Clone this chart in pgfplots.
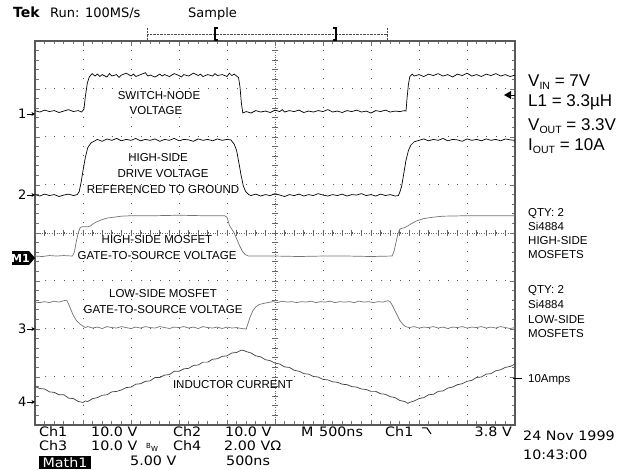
\documentclass[border=0pt]{standalone}
\usepackage{pgfplots}
\pgfplotsset{compat=1.18}
\usetikzlibrary{arrows.meta}
\usepackage{fontspec}
\setmainfont{Liberation Sans}
\newfontfamily\tekfont{DejaVu Sans}
\newfontfamily\tekwide[FakeStretch=1.1]{DejaVu Sans}

\newcommand{\lab}{\fontsize{11.5}{13}\selectfont}
\newcommand{\bigann}{\fontsize{17}{20}\selectfont}
\newcommand{\sub}[1]{\raisebox{-2.6pt}{\fontsize{10.5}{10.5}\selectfont #1}}
\newcommand{\scr}{\tekwide\fontsize{13}{15}\selectfont}

\begin{document}
\begin{tikzpicture}
\begin{axis}[
  name=ax, scale only axis, width=480pt, height=384pt,
  xmin=0, xmax=10, ymin=0, ymax=8,
  xtick={0,...,10}, ytick={0,...,8},
  minor x tick num=4, minor y tick num=4,
  xticklabels={}, yticklabels={},
  tick align=inside,
  major tick length=5pt, minor tick length=3.5pt,
  tick style={black!55, line width=0.8pt},
  grid=major,
  major grid style={black!65, line width=1pt, dash pattern=on 1pt off 8.6pt},
  axis line style={black!65, line width=1.6pt},
]
% centre cross of the graticule
\draw[black!60, line width=0.5pt, dash pattern=on 0.8pt off 1.6pt] (axis cs:0,4) -- (axis cs:10,4);
\draw[black!60, line width=6pt, dash pattern=on 0.8pt off 8.8pt, dash phase=0.4pt] (axis cs:0,4) -- (axis cs:10,4);
\draw[black!60, line width=0.5pt, dash pattern=on 0.8pt off 1.6pt] (axis cs:5,0) -- (axis cs:5,8);
\draw[black!60, line width=6pt, dash pattern=on 0.8pt off 8.8pt, dash phase=0.4pt] (axis cs:5,0) -- (axis cs:5,8);

% Ch1 switch node
\addplot[black, line width=0.7pt] coordinates {
 (0,6.55) (0.1,6.52) (0.2,6.56) (0.3,6.53) (0.4,6.55) (0.5,6.51) (0.6,6.54) (0.7,6.57) (0.8,6.53) (0.9,6.55) (0.97,6.52)
 (1.02,6.58) (1.05,6.85) (1.09,7.12) (1.13,7.25) (1.19,7.32)
 (1.25,7.27) (1.3,7.31) (1.35,7.26) (1.4,7.30) (1.5,7.25) (1.55,7.32) (1.6,7.27) (1.7,7.30) (1.75,7.24) (1.8,7.29)
 (1.9,7.33) (2.0,7.27) (2.05,7.31) (2.1,7.26) (2.2,7.30) (2.3,7.34) (2.35,7.27) (2.4,7.29) (2.5,7.25) (2.6,7.31)
 (2.65,7.27) (2.7,7.30) (2.8,7.26) (2.9,7.32) (3.0,7.28) (3.05,7.25) (3.1,7.30) (3.2,7.27) (3.3,7.33) (3.4,7.28)
 (3.45,7.31) (3.5,7.26) (3.6,7.30) (3.7,7.27) (3.75,7.32) (3.8,7.28) (3.9,7.30) (4.0,7.26) (4.05,7.33) (4.1,7.28)
 (4.15,7.31) (4.2,7.27) (4.24,7.24)
 (4.27,7.05) (4.30,6.70) (4.33,6.50)
 (4.4,6.53) (4.5,6.50) (4.6,6.55) (4.7,6.52) (4.8,6.54) (4.9,6.51) (5.0,6.56) (5.1,6.53) (5.15,6.57) (5.2,6.52)
 (5.3,6.55) (5.4,6.53) (5.5,6.56) (5.6,6.51) (5.7,6.54) (5.8,6.52) (5.9,6.55) (6.0,6.53) (6.1,6.57) (6.2,6.52)
 (6.3,6.54) (6.4,6.51) (6.5,6.55) (6.6,6.53) (6.7,6.56) (6.8,6.52) (6.9,6.54) (7.0,6.50) (7.1,6.55) (7.2,6.53)
 (7.3,6.56) (7.4,6.52) (7.5,6.54) (7.6,6.53) (7.7,6.55) (7.73,6.54)
 (7.75,6.80) (7.78,7.10) (7.81,7.26) (7.86,7.31)
 (7.9,7.27) (8.0,7.30) (8.1,7.26) (8.2,7.31) (8.3,7.28) (8.4,7.32) (8.5,7.27) (8.6,7.30) (8.7,7.25) (8.8,7.31)
 (8.9,7.28) (9.0,7.33) (9.1,7.27) (9.2,7.30) (9.3,7.26) (9.4,7.31) (9.5,7.28) (9.6,7.32) (9.7,7.27) (9.8,7.30)
 (9.9,7.26) (10,7.29)
};

% Ch2 high-side drive
\addplot[black, line width=0.7pt] coordinates {
 (0,4.80) (0.1,4.77) (0.2,4.81) (0.3,4.78) (0.4,4.80) (0.5,4.76) (0.6,4.79) (0.7,4.81) (0.8,4.78) (0.88,4.80)
 (0.92,4.86) (0.96,5.05) (1.0,5.30) (1.05,5.58) (1.1,5.78) (1.17,5.88) (1.25,5.92)
 (1.3,5.95) (1.4,5.91) (1.5,5.96) (1.6,5.93) (1.7,5.97) (1.8,5.92) (1.9,5.95) (2.0,5.93) (2.1,5.97) (2.2,5.92)
 (2.3,5.95) (2.4,5.93) (2.5,5.96) (2.6,5.91) (2.7,5.95) (2.8,5.93) (2.9,5.97) (3.0,5.92) (3.1,5.95) (3.2,5.94)
 (3.3,5.91) (3.4,5.96) (3.5,5.93) (3.6,5.95) (3.7,5.92) (3.8,5.96) (3.9,5.93) (4.0,5.95) (4.08,5.94)
 (4.15,5.85) (4.2,5.72) (4.25,5.45) (4.29,5.22) (4.34,4.98) (4.39,4.86) (4.45,4.80)
 (4.5,4.78) (4.6,4.81) (4.7,4.77) (4.8,4.80) (4.9,4.78) (5.0,4.82) (5.1,4.79) (5.2,4.76) (5.3,4.80) (5.4,4.78)
 (5.5,4.81) (5.6,4.77) (5.7,4.80) (5.8,4.78) (5.9,4.82) (6.0,4.79) (6.1,4.77) (6.2,4.80) (6.3,4.78) (6.4,4.81)
 (6.5,4.77) (6.6,4.80) (6.7,4.79) (6.8,4.82) (6.9,4.78) (7.0,4.80) (7.1,4.77) (7.2,4.81) (7.3,4.78) (7.4,4.80)
 (7.5,4.77) (7.57,4.78)
 (7.6,4.85) (7.64,4.98) (7.68,5.22) (7.73,5.52) (7.78,5.72) (7.83,5.83) (7.9,5.90) (8.0,5.93)
 (8.1,5.96) (8.2,5.92) (8.3,5.95) (8.4,5.93) (8.5,5.97) (8.6,5.92) (8.7,5.95) (8.8,5.94) (8.9,5.91) (9.0,5.96)
 (9.1,5.93) (9.2,5.95) (9.3,5.92) (9.4,5.96) (9.5,5.93) (9.6,5.95) (9.7,5.92) (9.8,5.96) (9.9,5.94) (10,5.93)
};

% Math1 high-side gate-to-source
\addplot[black!55, line width=0.7pt] coordinates {
 (0,3.52) (0.15,3.51) (0.3,3.53) (0.45,3.52) (0.6,3.53) (0.78,3.52) (0.82,3.60) (0.86,3.82) (0.90,4.00)
 (0.94,4.11) (0.98,4.13) (1.1,4.13) (1.16,4.15) (1.22,4.20) (1.3,4.24) (1.4,4.28) (1.5,4.31) (1.65,4.33)
 (1.8,4.35) (2.0,4.36) (2.5,4.36) (3.0,4.37) (3.5,4.36) (3.95,4.36) (4.0,4.33) (4.05,4.16) (4.1,4.08)
 (4.15,4.00) (4.2,3.88) (4.26,3.74) (4.32,3.62) (4.38,3.55) (4.45,3.52) (5.0,3.52) (5.5,3.51) (6.0,3.52)
 (6.5,3.52) (7.0,3.51) (7.44,3.52) (7.48,3.62) (7.52,3.80) (7.56,3.98) (7.6,4.08) (7.65,4.10) (7.7,4.11)
 (7.77,4.15) (7.85,4.20) (7.92,4.24) (8.0,4.27) (8.1,4.30) (8.3,4.33) (8.5,4.35) (9.0,4.36) (9.5,4.36) (10,4.36)
};

% Ch3 low-side gate-to-source
\addplot[black!55, line width=0.7pt] coordinates {
 (0,2.56) (0.1,2.55) (0.2,2.57) (0.3,2.55) (0.4,2.58) (0.5,2.56) (0.6,2.59) (0.66,2.60)
 (0.70,2.52) (0.74,2.42) (0.8,2.28) (0.86,2.18) (0.93,2.11) (1.0,2.06) (1.05,2.03)
 (1.1,2.05) (1.2,2.02) (1.3,2.04) (1.4,2.01) (1.5,2.05) (1.6,2.03) (1.7,2.02) (1.8,2.05) (1.9,2.03) (2.0,2.01)
 (2.1,2.04) (2.2,2.02) (2.3,2.05) (2.4,2.03) (2.5,2.02) (2.6,2.05) (2.7,2.03) (2.8,2.01) (2.9,2.04) (3.0,2.03)
 (3.1,2.05) (3.2,2.02) (3.3,2.04) (3.4,2.01) (3.5,2.05) (3.6,2.03) (3.7,2.02) (3.8,2.04) (3.9,2.01) (4.0,2.04)
 (4.1,2.02) (4.2,2.03) (4.3,2.01) (4.4,2.00)
 (4.44,2.12) (4.49,2.27) (4.54,2.38) (4.6,2.46) (4.67,2.51) (4.75,2.53) (4.85,2.55)
 (4.95,2.57) (5.05,2.55) (5.15,2.58) (5.25,2.56) (5.35,2.57) (5.45,2.55) (5.55,2.57) (5.65,2.56) (5.75,2.58)
 (5.85,2.55) (5.95,2.57) (6.05,2.56) (6.15,2.58) (6.25,2.55) (6.35,2.57) (6.45,2.56) (6.55,2.57) (6.65,2.55)
 (6.75,2.58) (6.85,2.56) (6.95,2.57) (7.05,2.55) (7.15,2.57) (7.25,2.56) (7.35,2.59) (7.4,2.57)
 (7.45,2.48) (7.5,2.38) (7.55,2.28) (7.6,2.18) (7.66,2.10) (7.72,2.05) (7.8,2.03)
 (7.9,2.05) (8.0,2.02) (8.1,2.04) (8.2,2.03) (8.3,2.05) (8.4,2.02) (8.5,2.04) (8.6,2.01) (8.7,2.04) (8.8,2.03)
 (8.9,2.05) (9.0,2.02) (9.1,2.04) (9.2,2.03) (9.3,2.05) (9.4,2.02) (9.5,2.04) (9.6,2.02) (9.7,2.05) (9.8,2.03)
 (9.9,2.01) (10,2.03)
};

% Ch4 inductor current
\addplot[black!75, line width=0.7pt] coordinates {
 (0,0.80) (0.1,0.76) (0.2,0.75) (0.3,0.69) (0.4,0.68) (0.5,0.63) (0.6,0.63) (0.7,0.56) (0.8,0.55) (0.9,0.49)
 (1.0,0.47) (1.05,0.50) (1.1,0.49) (1.2,0.55) (1.3,0.57) (1.4,0.62) (1.5,0.63) (1.6,0.69) (1.7,0.70) (1.8,0.73)
 (1.9,0.78) (2.0,0.79) (2.1,0.85) (2.2,0.86) (2.3,0.91) (2.4,0.92) (2.5,0.99) (2.6,0.99) (2.7,1.04) (2.8,1.05)
 (2.9,1.12) (3.0,1.12) (3.1,1.17) (3.2,1.18) (3.3,1.24) (3.4,1.25) (3.5,1.31) (3.6,1.31) (3.7,1.37) (3.8,1.38)
 (3.9,1.43) (4.0,1.44) (4.1,1.50) (4.2,1.51) (4.3,1.56) (4.35,1.55)
 (4.4,1.53) (4.5,1.50) (4.6,1.44) (4.7,1.42) (4.8,1.36) (4.9,1.34) (5.0,1.29) (5.1,1.27) (5.2,1.21) (5.3,1.20)
 (5.4,1.14) (5.5,1.12) (5.6,1.07) (5.7,1.06) (5.8,1.01) (5.9,1.00) (6.0,0.95) (6.1,0.94) (6.2,0.90) (6.3,0.89)
 (6.4,0.85) (6.5,0.84) (6.6,0.80) (6.7,0.79) (6.8,0.75) (6.9,0.74) (7.0,0.70) (7.1,0.70) (7.2,0.65) (7.3,0.64)
 (7.4,0.59) (7.5,0.57) (7.6,0.51) (7.7,0.49) (7.77,0.45)
 (7.8,0.47) (7.9,0.50) (8.0,0.55) (8.1,0.57) (8.2,0.63) (8.3,0.64) (8.4,0.70) (8.5,0.71) (8.6,0.77) (8.7,0.79)
 (8.8,0.84) (8.9,0.86) (9.0,0.91) (9.1,0.93) (9.2,0.99) (9.3,1.00) (9.4,1.06) (9.5,1.07) (9.6,1.13) (9.7,1.15)
 (9.8,1.20) (9.9,1.22) (10,1.27)
};
\end{axis}

% everything else in picture pixels: (0,0) top left, y downwards
\begin{scope}[shift={(ax.south west)}, xshift=-35pt, yshift=425pt, x=1pt, y=-1pt]
  % header
  \node[anchor=base west, inner sep=0, font=\tekfont\bfseries\fontsize{14}{16}\selectfont] at (13,18) {Tek};
  \node[anchor=base west, inner sep=0, font=\tekfont\fontsize{13}{15}\selectfont] at (50,18) {Run: 100MS/s};
  \node[anchor=base west, inner sep=0, font=\tekfont\fontsize{13}{15}\selectfont] at (188,18) {Sample};
  \draw[black!70, densely dotted] (147,34) -- (387,34);
  \draw[black!70, densely dotted] (147,28) -- (147,40);
  \draw[black!70, densely dotted] (387,28) -- (387,40);
  \draw[line width=1.3pt] (218,28) -- (215,28) -- (215,40) -- (218,40);
  \draw[line width=1.3pt] (333,28) -- (336,28) -- (336,40) -- (333,40);

  % channel markers
  \foreach \n/\yy in {1/114, 2/195, 3/329, 4/402} {
    \node[anchor=east, inner sep=0.5pt, font=\tekfont\fontsize{13}{15}\selectfont] at (27,\yy) {\n};
    \draw[line width=0.8pt, -{Stealth[length=3.5pt, width=4pt]}] (27,\yy) -- (35,\yy);
  }
  \fill (12,251) rectangle (29,265);
  \fill (29,251) -- (35,258) -- (29,265) -- cycle;
  \node[text=white, inner sep=0, font=\tekfont\bfseries\fontsize{11}{12}\selectfont] at (20.5,258) {M1};
  \fill (504,95) -- (511,91) -- (511,99) -- cycle;
  \draw[line width=0.8pt] (510,95) -- (515,95);

  % trace labels
  \foreach \t/\xx/\yy in {SWITCH-NODE/159/100, VOLTAGE/156/115, HIGH-SIDE/158/162, DRIVE VOLTAGE/163/178,
      REFERENCED TO GROUND/163/194, HIGH-SIDE MOSFET/157/244, GATE-TO-SOURCE VOLTAGE/157/260,
      LOW-SIDE MOSFET/163/298, GATE-TO-SOURCE VOLTAGE/163/314, INDUCTOR CURRENT/233/389}
    \node[anchor=base, inner sep=0, font=\lab] at (\xx,\yy) {\t};

  % right hand notes
  \node[anchor=base west, inner sep=0, font=\bigann] at (528,86.7) {V\sub{IN} = 7V};
  \node[anchor=base west, inner sep=0, font=\bigann] at (528,106.7) {L1 = 3.3µH};
  \node[anchor=base west, inner sep=0, font=\bigann] at (528,130.7) {V\sub{OUT} = 3.3V};
  \node[anchor=base west, inner sep=0, font=\bigann] at (528,150.5) {I\sub{OUT} = 10A};
  \foreach \t/\yy in {QTY: 2/216.5, Si4884/230.5, HIGH-SIDE/244.5, MOSFETS/258.5,
      QTY: 2/294, Si4884/308.7, LOW-SIDE/323.3, MOSFETS/338}
    \node[anchor=base west, inner sep=0, font=\lab] at (528,\yy) {\t};
  \draw[line width=0.9pt] (513,378) -- (522,378);
  \node[anchor=base west, inner sep=0, font=\lab] at (528,383) {10Amps};

  % readout
  \foreach \t/\xx/\yy in {Ch1/39/437, 10.0 V/91/437, Ch2/173/437, 10.0 V/225/437, M/301/437, 500ns/319/437, Ch1/385/437,
      Ch3/39/451, 10.0 V/91/451, Ch4/173/451, 2.00 VΩ/224/451,
      5.00 V/130/466, 500ns/226/466}
    \node[anchor=base west, inner sep=0, font=\scr] at (\xx,\yy) {\t};
  \node[anchor=base east, inner sep=0, font=\scr] at (512,437) {3.8 V};
  \draw[line width=1pt] (422,428) -- (427,428) -- (431,434);
  \node[anchor=base west, inner sep=0, font=\tekfont\fontsize{7}{8}\selectfont] at (146,451) {\raisebox{2.5pt}{B}\raisebox{-1pt}{W}};
  \fill (39,456) rectangle (91,469);
  \node[text=white, inner sep=0, font=\scr] at (65,462.5) {Math1};
  \node[anchor=base west, inner sep=0, font=\scr] at (523,441) {24 Nov 1999};
  \node[anchor=base west, inner sep=0, font=\scr] at (523,460) {10:43:00};

  \pgfresetboundingbox
  \path[use as bounding box] (0,0) rectangle (635,470);
\end{scope}
\end{tikzpicture}
\end{document}
